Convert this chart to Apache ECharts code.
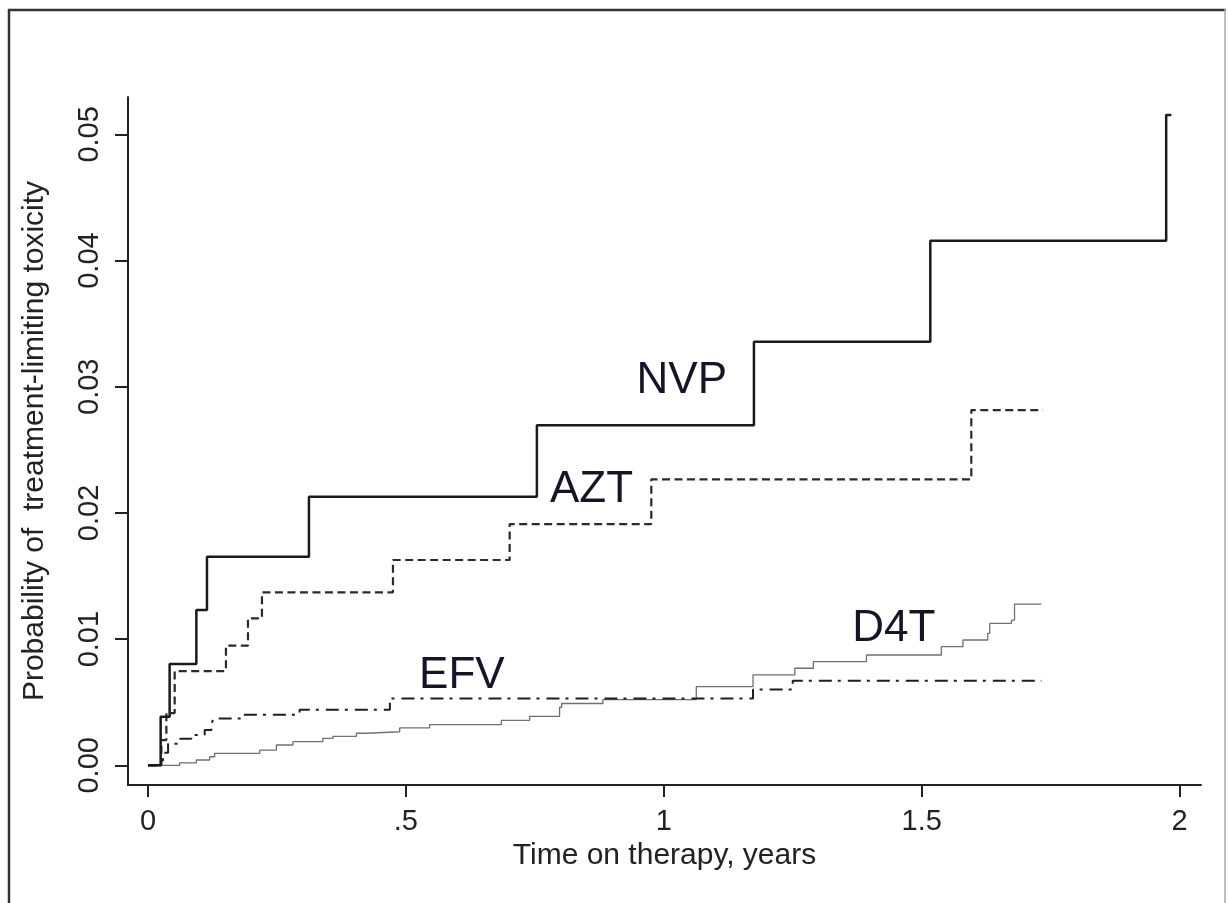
<!DOCTYPE html>
<html>
<head>
<meta charset="utf-8">
<script src="https://cdn.jsdelivr.net/npm/echarts@6/dist/echarts.min.js"></script>
<style>
html,body{margin:0;padding:0;background:#fff;}
#c{width:1229px;height:903px;}
</style>
</head>
<body>
<div id="c"></div>
<script>
// ---- data (time in years, cumulative probability) ----
const nvp = [[0,0],[0.0246,0.00385],[0.042,0.00803],[0.0938,0.0123],[0.1144,0.01653],[0.3121,0.02128],[0.754,0.02694],[1.1748,0.03357],[1.5167,0.04157],[1.974,0.05153],[1.984,0.05153]];
const azt = [[0,0],[0.026,0.002],[0.0357,0.00414],[0.0518,0.00747],[0.1512,0.00948],[0.1939,0.01165],[0.221,0.01371],[0.475,0.01627],[0.7012,0.01912],[0.9758,0.02266],[1.5962,0.02815],[1.735,0.02815]];
const efv = [[0,0],[0.029,0.001],[0.039,0.0017],[0.062,0.0021],[0.084,0.0024],[0.110,0.0028],[0.123,0.0031],[0.126,0.0037],[0.184,0.0040],[0.294,0.0044],[0.469,0.0053],[1.173,0.0060],[1.250,0.0067],[1.732,0.0067]];
const d4t = [[0,0],[0.0615,0.0002],[0.0938,0.00042],[0.1196,0.00068],[0.1293,0.00095],[0.2165,0.00121],[0.2489,0.00161],[0.2811,0.00187],[0.339,0.00214],[0.3586,0.0023],[0.404,0.00254],[0.4234,0.00266],[0.488,0.00296],[0.546,0.00322],[0.685,0.00356],[0.740,0.00388],[0.798,0.0046],[0.802,0.0049],[0.882,0.0052],[1.063,0.00623],[1.173,0.00716],[1.254,0.00769],[1.29,0.00821],[1.393,0.00874],[1.538,0.0094],[1.58,0.00993],[1.628,0.01046],[1.632,0.01125],[1.674,0.01151],[1.680,0.01278],[1.732,0.01278]];
const seriesLabels = [
  {name:'NVP', value:[1.035,0.0305]},
  {name:'AZT', value:[0.860,0.0218]},
  {name:'EFV', value:[0.6085,0.0071]},
  {name:'D4T', value:[1.446,0.0108]}
];
const xTicks = [0,0.5,1,1.5,2];
const xTickLabels = ['0','.5','1','1.5','2'];
const yTicks = [0,0.01,0.02,0.03,0.04,0.05];
const yTickLabels = ['0.00','0.01','0.02','0.03','0.04','0.05'];
const xTitle = 'Time on therapy, years';
const yTitle = 'Probability of  treatment-limiting toxicity';

const FONT = "'Liberation Sans', Arial, sans-serif";
const chart = echarts.init(document.getElementById('c'), null, {renderer:'canvas'});
const xMap = {}; xTicks.forEach((v,i)=>xMap[v]=xTickLabels[i]);
const yMap = {}; yTicks.forEach((v,i)=>yMap[v.toFixed(2)]=yTickLabels[i]);

chart.setOption({
  animation:false,
  backgroundColor:'#fff',
  grid:{left:128, right:28, top:97, bottom:118, containLabel:false},
  xAxis:{
    type:'value', min:-0.0387, max:2.0415,
    name:xTitle, nameLocation:'middle', nameGap:52,
    nameTextStyle:{fontFamily:FONT, fontSize:30, color:'#222'},
    axisLine:{show:true, onZero:false, lineStyle:{color:'#222', width:2}},
    axisTick:{show:true, length:12, lineStyle:{color:'#222', width:2}, customValues:xTicks},
    axisLabel:{fontFamily:FONT, fontSize:29, color:'#222', margin:22, customValues:xTicks,
      formatter:v=>xMap[v]!==undefined?xMap[v]:''},
    splitLine:{show:false}
  },
  yAxis:{
    type:'value', min:-0.00156, max:0.05296,
    name:yTitle, nameLocation:'middle', nameGap:78, nameRotate:90,
    nameTextStyle:{fontFamily:FONT, fontSize:30, color:'#222'},
    axisLine:{show:true, onZero:false, lineStyle:{color:'#222', width:2}},
    axisTick:{show:true, length:13, lineStyle:{color:'#222', width:2}, customValues:yTicks},
    axisLabel:{fontFamily:FONT, fontSize:29, color:'#222', rotate:90, margin:24, customValues:yTicks,
      formatter:v=>{const k=Number(v).toFixed(2); return yMap[k]!==undefined?yMap[k]:'';}},
    splitLine:{show:false}
  },
  graphic:[
    {type:'line', shape:{x1:8,y1:10,x2:1226,y2:10}, style:{stroke:'#333', lineWidth:2.5}, silent:true},
    {type:'line', shape:{x1:9,y1:9,x2:9,y2:903}, style:{stroke:'#333', lineWidth:2.5}, silent:true},
    {type:'line', shape:{x1:1225,y1:9,x2:1225,y2:903}, style:{stroke:'#aaa', lineWidth:1.5}, silent:true}
  ],
  series:[
    {name:'D4T', type:'line', step:'end', data:d4t, symbol:'none', z:2,
      lineStyle:{color:'#707070', width:1.3}},
    {name:'EFV', type:'line', step:'end', data:efv, symbol:'none', z:3,
      lineStyle:{color:'#1e1e1e', width:2, type:[13,6,3,7]}},
    {name:'AZT', type:'line', step:'end', data:azt, symbol:'none', z:4,
      lineStyle:{color:'#2a2a2a', width:2.2, type:[8,4.5]}},
    {name:'NVP', type:'line', step:'end', data:nvp, symbol:'none', z:5,
      lineStyle:{color:'#1a1a1a', width:2.5}},
    {name:'labels', type:'scatter', data:seriesLabels, symbolSize:0, silent:true, z:6,
      itemStyle:{opacity:1, color:'#000'},
      label:{show:true, position:'inside', formatter:'{b}', fontFamily:FONT, fontSize:44,
        color:'#15152a', opacity:1, textBorderWidth:0}}
  ]
});
</script>
</body>
</html>
